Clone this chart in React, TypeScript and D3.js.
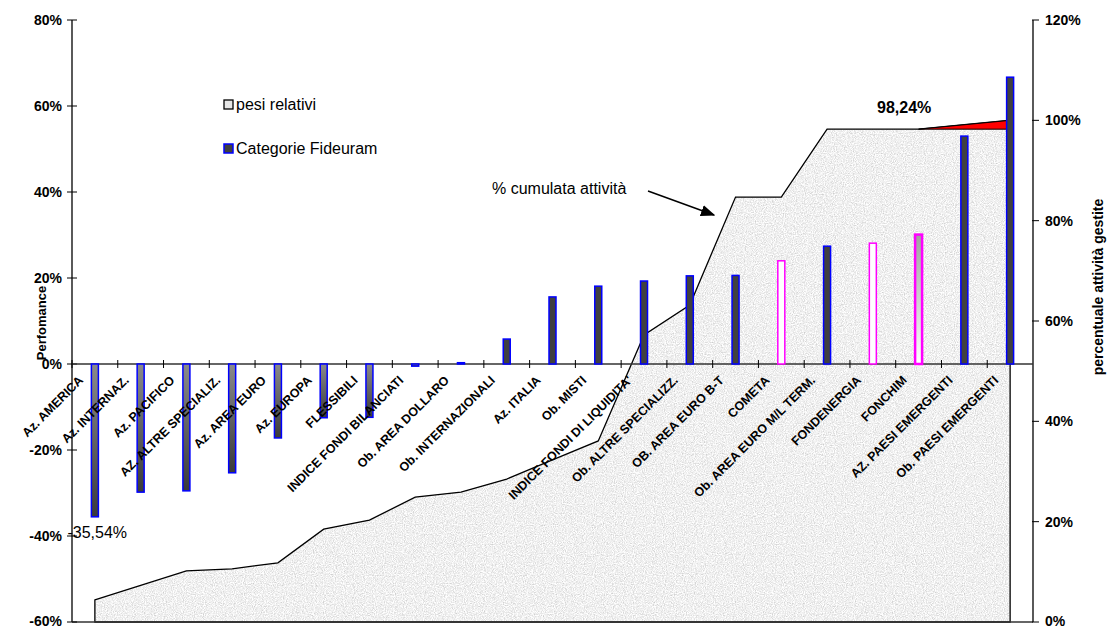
import * as d3 from "d3";

const categories = [
  "Az. AMERICA",
  "Az. INTERNAZ.",
  "Az. PACIFICO",
  "AZ. ALTRE SPECIALIZ.",
  "Az. AREA EURO",
  "Az. EUROPA",
  "FLESSIBILI",
  "INDICE FONDI BILANCIATI",
  "Ob. AREA DOLLARO",
  "Ob. INTERNAZIONALI",
  "Az. ITALIA",
  "Ob. MISTI",
  "INDICE FONDI DI LIQUIDITA'",
  "Ob. ALTRE SPECIALIZZ.",
  "OB. AREA EURO B-T",
  "COMETA",
  "Ob. AREA EURO M/L TERM.",
  "FONDENERGIA",
  "FONCHIM",
  "AZ. PAESI EMERGENTI",
  "Ob. PAESI EMERGENTI",
];

// performance of each category (left axis, %)
const performance = [
  -35.54, -29.8, -29.5, -25.3, -17.2, -12.5, -12.4, -0.5, 0.3, 5.8, 15.6,
  18.1, 19.3, 20.5, 20.6, 24.0, 27.4, 28.1, 30.1, 53.0, 66.7,
];

// cumulative share of managed assets (right axis, %)
const cumulative = [
  4.4, 7.3, 10.2, 10.6, 11.8, 18.5, 20.3, 24.9, 25.9, 28.5, 32.3, 36.1, 57.2,
  63.2, 84.7, 84.7, 98.24, 98.24, 98.24, 99.12, 100,
];

const leftTicks = [-60, -40, -20, 0, 20, 40, 60, 80];
const rightTicks = [0, 20, 40, 60, 80, 100, 120];

// categories drawn as hollow pink bars
const pinkCategories = ["COMETA", "FONDENERGIA"];
const pinkThickCategories = ["FONCHIM"];

const W = 1111;
const H = 628;
const left = 72;
const right = 1033;
const top = 20;
const bottom = 622;
const FONT = "Arial, 'Liberation Sans', sans-serif";

export default function App() {
  const x = d3.scaleBand<string>().domain(categories).range([left, right]);
  const cx = (c: string) => (x(c) ?? 0) + x.bandwidth() / 2;
  const yL = d3.scaleLinear().domain([-60, 80]).range([bottom, top]);
  const yR = d3.scaleLinear().domain([0, 120]).range([bottom, top]);
  const barW = 7;

  const cumData = categories.map((c, i) => ({ c, v: cumulative[i] }));
  const area = d3
    .area<{ c: string; v: number }>()
    .x((d) => cx(d.c))
    .y0(bottom)
    .y1((d) => yR(d.v));
  const areaPath = area(cumData)!;

  const last = categories.length - 1;
  const redTri = [
    [cx(categories[last - 2]), yR(cumulative[last - 2])],
    [cx(categories[last]), yR(cumulative[last])],
    [cx(categories[last]), yR(cumulative[last - 2])],
  ];

  return (
    <svg
      width={W}
      height={H}
      style={{ position: "absolute", left: 0, top: 0, background: "#fff" }}
      fontFamily={FONT}
    >
      <defs>
        <filter id="speckle" x="0" y="0" width="100%" height="100%">
          <feTurbulence type="fractalNoise" baseFrequency="0.9" numOctaves="2" seed="4" result="t" />
          <feColorMatrix
            in="t"
            type="matrix"
            values="0.7 0 0 0 0.52  0.7 0 0 0 0.52  0.7 0 0 0 0.52  0 0 0 0 1"
            result="g"
          />
          <feComposite in="g" in2="SourceAlpha" operator="in" />
        </filter>
        <linearGradient id="negBar" x1="0" y1="0" x2="0" y2="1">
          <stop offset="0" stopColor="#8a8a8a" />
          <stop offset="1" stopColor="#3a3a3a" />
        </linearGradient>
        <linearGradient id="fonchim" x1="0" y1="0" x2="0" y2="1">
          <stop offset="0" stopColor="#a0a0a0" />
          <stop offset="1" stopColor="#ffffff" />
        </linearGradient>
        <marker id="arrow" viewBox="0 0 10 10" refX="9" refY="5" markerWidth="9" markerHeight="9" orient="auto">
          <path d="M0,1 L10,5 L0,9 z" fill="#000" />
        </marker>
      </defs>

      {/* cumulative area */}
      <path d={areaPath} fill="#dcdcdc" />
      <path d={areaPath} fill="#dcdcdc" filter="url(#speckle)" />
      <path d={areaPath} fill="none" stroke="#000" strokeWidth={1.3} />

      <path
        d={`M${redTri.map((p) => p.join(",")).join("L")}Z`}
        fill="#ff0000"
        stroke="#000"
        strokeWidth={1}
      />

      {/* axes */}
      <line x1={left} x2={left} y1={top} y2={bottom} stroke="#000" strokeWidth={1.3} />
      <line x1={right} x2={right} y1={top} y2={bottom} stroke="#000" strokeWidth={1.3} />
      <line x1={left} x2={right} y1={bottom} y2={bottom} stroke="#333" strokeWidth={1.3} />
      {leftTicks.map((t) => (
        <g key={"l" + t}>
          <line x1={left - 5} x2={left + 5} y1={yL(t)} y2={yL(t)} stroke="#000" />
          <text x={62} y={Math.min(yL(t) + 5, 626)} textAnchor="end" fontSize={14} fontWeight="bold">
            {t}%
          </text>
        </g>
      ))}
      {rightTicks.map((t) => (
        <g key={"r" + t}>
          <line x1={right - 1} x2={right + 6} y1={yR(t)} y2={yR(t)} stroke="#000" />
          <text x={1045} y={Math.min(yR(t) + 5, 626)} fontSize={14} fontWeight="bold">
            {t}%
          </text>
        </g>
      ))}

      {/* zero line */}
      <line x1={left} x2={right} y1={yL(0)} y2={yL(0)} stroke="#333" strokeWidth={1.3} />
      {categories.map((c) => (
        <line key={"t" + c} x1={x(c)} x2={x(c)} y1={yL(0) - 4} y2={yL(0) + 4} stroke="#000" />
      ))}

      {/* bars */}
      {categories.map((c, i) => {
        const v = performance[i];
        const y0 = yL(Math.max(0, v));
        const h = Math.abs(yL(v) - yL(0));
        const isPink = pinkCategories.includes(c);
        const isThick = pinkThickCategories.includes(c);
        const fill = isPink ? "#fff" : isThick ? "url(#fonchim)" : v < 0 ? "url(#negBar)" : "#404040";
        const stroke = isPink || isThick ? "#ff00ff" : "#0000ff";
        return (
          <rect
            key={"b" + c}
            x={cx(c) - barW / 2}
            y={y0}
            width={barW}
            height={Math.max(h, 1)}
            fill={fill}
            stroke={stroke}
            strokeWidth={isThick ? 2.5 : 1.5}
          />
        );
      })}

      {/* category labels */}
      {categories.map((c) => (
        <text
          key={"c" + c}
          transform={`translate(${cx(c) - 11},${yL(0) + 17}) rotate(-45)`}
          textAnchor="end"
          fontSize={12.5}
          fontWeight="bold"
        >
          {c}
        </text>
      ))}

      {/* value labels */}
      <text x={127} y={yL(performance[0]) + 21} textAnchor="end" fontSize={16}>
        -35,54%
      </text>
      <text x={877} y={113} fontSize={16} fontWeight="bold">
        98,24%
      </text>

      {/* annotation */}
      <text x={492} y={194} fontSize={16}>
        % cumulata attività
      </text>
      <line x1={648} y1={191} x2={714} y2={215} stroke="#000" strokeWidth={1.6} markerEnd="url(#arrow)" />

      {/* legend */}
      <rect x={224} y={100} width={9} height={9} fill="#e6e6e6" stroke="#000" strokeWidth={1.3} />
      <text x={236} y={110} fontSize={16}>
        pesi relativi
      </text>
      <rect x={224} y={144} width={9} height={9} fill="#404040" stroke="#0000ff" strokeWidth={1.5} />
      <text x={236} y={154} fontSize={16}>
        Categorie Fideuram
      </text>

      {/* axis titles */}
      <text transform="translate(46,323) rotate(-90)" textAnchor="middle" fontSize={13} fontWeight="bold">
        Perfomance
      </text>
      <text transform="translate(1103,287) rotate(-90)" textAnchor="middle" fontSize={14} fontWeight="bold">
        percentuale attività gestite
      </text>
    </svg>
  );
}
